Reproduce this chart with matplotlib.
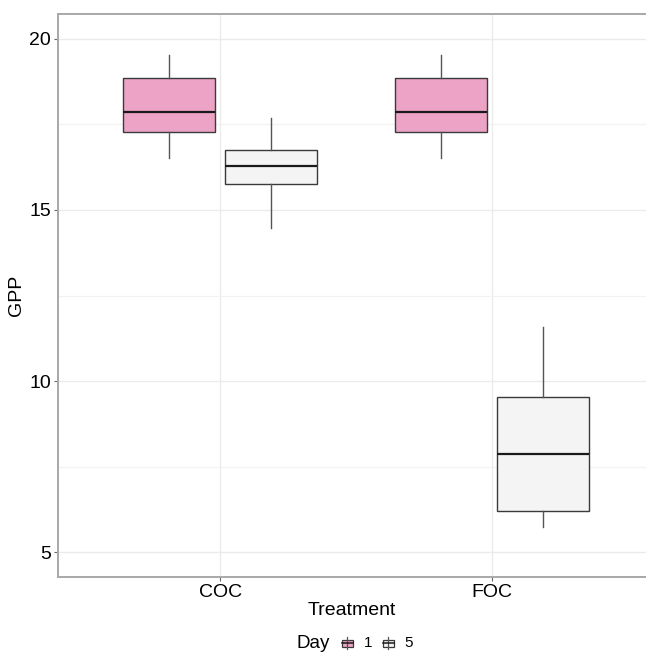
import matplotlib
matplotlib.use("Agg")
import matplotlib.pyplot as plt
from matplotlib.patches import Rectangle
from matplotlib.lines import Line2D

plt.rcParams['font.family'] = ['Liberation Sans', 'DejaVu Sans']

treatments = ['COC', 'FOC']
days = ['1', '5']
day_colors = {'1': '#EDA3C6', '5': '#F4F4F4'}

# box stats per day, one entry per treatment: (whislo, q1, median, q3, whishi)
gpp_day1 = [(16.52, 17.28, 17.87, 18.86, 19.53),
            (16.52, 17.28, 17.87, 18.86, 19.53)]
gpp_day5 = [(14.47, 15.76, 16.29, 16.75, 17.69),
            (5.73, 6.20, 7.87, 9.53, 11.58)]

fig = plt.figure(figsize=(6.46, 6.52), dpi=100)
ax = fig.add_axes([58 / 646, 75 / 652, 1 - 58 / 646, (577 - 14) / 652])

def to_stats(rows):
    return [dict(whislo=a, q1=b, med=c, q3=d, whishi=e, fliers=[]) for a, b, c, d, e in rows]

offset = 0.1875
width = 0.338
for day, rows, dx in [('1', gpp_day1, -offset), ('5', gpp_day5, offset)]:
    pos = [i + 1 + dx for i in range(len(treatments))]
    ax.bxp(to_stats(rows), positions=pos, widths=width, patch_artist=True,
           showcaps=False, showfliers=False,
           boxprops=dict(facecolor=day_colors[day], edgecolor='#3a3a3a', linewidth=1.0),
           medianprops=dict(color='#1a1a1a', linewidth=1.6),
           whiskerprops=dict(color='#555555', linewidth=1.0),
           zorder=3)

ax.set_xlim(0.404, 2.566)
ax.set_ylim(4.27, 20.73)
ax.set_xticks([1, 2])
ax.set_xticklabels(treatments)
ax.set_yticks([5, 10, 15, 20])
ax.set_yticks([7.5, 12.5, 17.5], minor=True)
ax.tick_params(axis='y', which='minor', length=0)
ax.tick_params(which='major', length=3, color='#666666', labelsize=14, labelcolor='black', pad=2)
ax.grid(True, which='major', color='#ebebeb', linewidth=1.0, zorder=0)
ax.grid(True, which='minor', axis='y', color='#f2f2f2', linewidth=0.9, zorder=0)
ax.set_axisbelow(True)

for s in ['left', 'bottom', 'top']:
    ax.spines[s].set_color('#a8a8a8')
    ax.spines[s].set_linewidth(1.4)
ax.spines['right'].set_visible(False)

ax.set_xlabel('Treatment', fontsize=14, labelpad=1)
ax.set_ylabel('GPP', fontsize=14, labelpad=3)

# legend at bottom
yc = 1 - 643 / 652
fig.text(297 / 646, yc, 'Day', fontsize=13.5, va='center', ha='left')
for day, cx, tx in [('1', 347, 364), ('5', 388, 404)]:
    xc = cx / 646
    bw = 11 / 646
    bh = 7 / 652
    fig.add_artist(Line2D([xc, xc], [yc - 6 / 652, yc + 6 / 652], color='#555555', linewidth=0.9))
    fig.add_artist(Rectangle((xc - bw / 2, yc - bh / 2), bw, bh, facecolor=day_colors[day],
                             edgecolor='#3a3a3a', linewidth=0.9))
    fig.add_artist(Line2D([xc - bw / 2, xc + bw / 2], [yc, yc], color='#1a1a1a', linewidth=1.1))
    fig.text(tx / 646, yc, day, fontsize=11, va='center', ha='left')

fig.savefig('out.png', dpi=100)
